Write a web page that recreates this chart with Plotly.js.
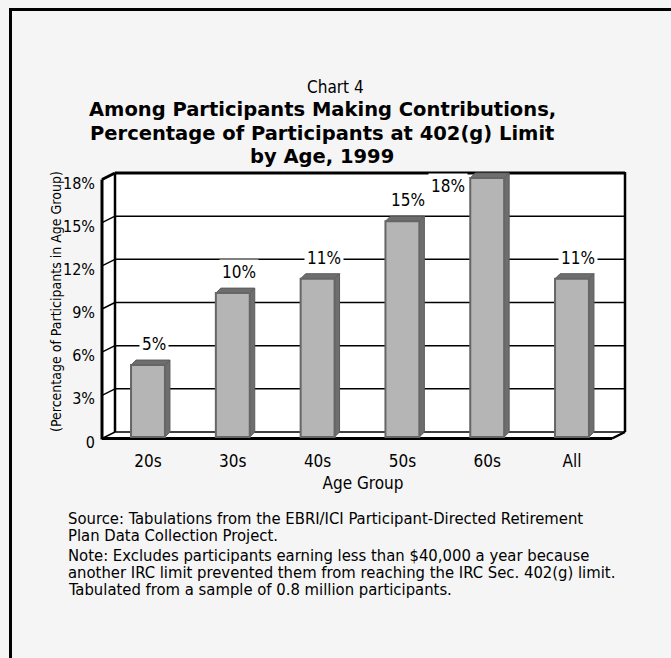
<!DOCTYPE html>
<html><head><meta charset="utf-8">
<script src="https://cdn.plot.ly/plotly-3.0.1.min.js"></script>
<style>html,body{margin:0;padding:0;background:#f5f5f5;}#chart{width:671px;height:658px;}</style>
</head><body><div id="chart"></div>
<script>
// ---- data ----
const categories = ['20s', '30s', '40s', '50s', '60s', 'All'];
const percentages = [5, 10, 11, 15, 18, 11];
const valueLabels = ['5%', '10%', '11%', '15%', '18%', '11%'];
const yTickVals = [0, 3, 6, 9, 12, 15, 18];
const yTickText = ['0', '3%', '6%', '9%', '12%', '15%', '18%'];
const chartLabel = 'Chart 4';
const titleLines = ['Among Participants Making Contributions,', 'Percentage of Participants at 402(g) Limit', 'by Age, 1999'];
const xTitle = 'Age Group';
const yTitle = '(Percentage of Participants in Age Group)';
const footnoteLines = [
  'Source: Tabulations from the EBRI/ICI Participant-Directed Retirement',
  'Plan Data Collection Project.',
  'Note: Excludes participants earning less than $40,000 a year because',
  'another IRC limit prevented them from reaching the IRC Sec. 402(g) limit.',
  'Tabulated from a sample of 0.8 million participants.'
];

// ---- geometry (pixels) ----
const W = 671, H = 658;
const PL = 96, PR = 630, PT = 166, PB = 446;
const BACK_L = 115, BACK_R = 625, BACK_ZERO = 432, BACK_TOP = 173;
const DX = -13, DY = 6.5;          // depth of floor / left wall
const BAR_D = 5;                    // bar depth
const FRONT_ZERO = BACK_ZERO + BAR_D;
const CAT0 = 148, CAT_STEP = 84.8;
const YMAX = 18;
const pxPerY = (BACK_ZERO - BACK_TOP) / YMAX;

const yRange = [(BACK_ZERO - PB) / pxPerY, (BACK_ZERO - PT) / pxPerY];
const y2Range = [(FRONT_ZERO - PB) / pxPerY, (FRONT_ZERO - PT) / pxPerY];
const xRange = [(PL - CAT0) / CAT_STEP, (PR - CAT0) / CAT_STEP];
const px = x => (x - PL) / (PR - PL);
const py = y => (PB - y) / (PB - PT);

const NARROW = '"Liberation Sans Narrow", "DejaVu Sans Condensed", "Arial Narrow", Roboto, sans-serif';
const BOLD = '"DejaVu Sans", Verdana, sans-serif';

const shapes = [];
// outer frame
shapes.push({type: 'path', xref: 'paper', yref: 'paper', layer: 'below',
  path: `M ${px(10.5)},${py(H + 5)} L ${px(10.5)},${py(9.5)} L ${px(W + 5)},${py(9.5)}`,
  line: {color: '#000', width: 3}});
// walls
shapes.push({type: 'path', xref: 'paper', yref: 'paper', layer: 'below', fillcolor: '#fff', line: {width: 0},
  path: `M ${px(BACK_L)},${py(BACK_TOP)} L ${px(BACK_R)},${py(BACK_TOP)} L ${px(BACK_R)},${py(BACK_ZERO)} L ${px(BACK_R + DX)},${py(BACK_ZERO + DY)} L ${px(BACK_L + DX)},${py(BACK_ZERO + DY)} L ${px(BACK_L + DX)},${py(BACK_TOP + DY)} Z`});
// gridlines from tick values
const dyData = DY / pxPerY;
yTickVals.forEach(t => {
  const w = (t === YMAX) ? 3 : 1.5;
  shapes.push({type: 'line', xref: 'paper', yref: 'y', layer: 'below', x0: px(BACK_L), x1: px(BACK_R), y0: t, y1: t, line: {color: '#000', width: w}});
  shapes.push({type: 'line', xref: 'paper', yref: 'y', layer: 'below', x0: px(BACK_L + DX), x1: px(BACK_L), y0: t - dyData, y1: t, line: {color: '#000', width: w}});
});
// wall edges
const edge = (x0, y0, x1, y1, w) => shapes.push({type: 'line', xref: 'paper', yref: 'paper', layer: 'below',
  x0: px(x0), y0: py(y0), x1: px(x1), y1: py(y1), line: {color: '#000', width: w}});
edge(BACK_L, BACK_TOP, BACK_L, BACK_ZERO, 2.5);
edge(BACK_R, BACK_TOP - 1, BACK_R, BACK_ZERO, 2.5);
edge(BACK_L + DX, BACK_TOP + DY, BACK_L + DX, BACK_ZERO + DY + 1, 3);
edge(BACK_L + DX, BACK_ZERO + DY, BACK_R + DX, BACK_ZERO + DY, 3);
edge(BACK_R + DX, BACK_ZERO + DY, BACK_R, BACK_ZERO, 2.5);

// bar top and side faces (through x / y2 scales)
const halfW = 0.2;
const bdx = BAR_D / CAT_STEP, bdy = BAR_D / pxPerY;
percentages.forEach((v, i) => {
  shapes.push({type: 'path', xref: 'x', yref: 'y2', layer: 'below', fillcolor: '#6e6e6e', line: {color: '#5c5c5c', width: 1},
    path: `M ${i - halfW},${v} L ${i - halfW + bdx},${v + bdy} L ${i + halfW + bdx},${v + bdy} L ${i + halfW},${v} Z`});
  shapes.push({type: 'path', xref: 'x', yref: 'y2', layer: 'below', fillcolor: '#6e6e6e', line: {color: '#5c5c5c', width: 1},
    path: `M ${i + halfW},${v} L ${i + halfW + bdx},${v + bdy} L ${i + halfW + bdx},${bdy} L ${i + halfW},0 Z`});
});

const annotations = [];
percentages.forEach((v, i) => {
  const atTop = v >= YMAX;
  annotations.push({x: categories[i], y: v, xref: 'x', yref: 'y2', text: valueLabels[i], showarrow: false,
    xanchor: 'center', yanchor: 'middle', xshift: atTop ? -39 : 6, yshift: atTop ? -8 : 21,
    bgcolor: '#fff', borderpad: 2, font: {family: NARROW, size: 17, color: '#000'}});
});
annotations.push({xref: 'paper', yref: 'paper', x: px(335), y: py(87), text: chartLabel, showarrow: false,
  xanchor: 'center', yanchor: 'middle', font: {family: NARROW, size: 17, color: '#000'}});
const titleY = [109, 133, 157];
titleLines.forEach((t, k) => annotations.push({xref: 'paper', yref: 'paper', x: px(322), y: py(titleY[k]), text: '<b>' + t + '</b>',
  showarrow: false, xanchor: 'center', yanchor: 'middle', font: {family: BOLD, size: 19.5, color: '#000'}}));
annotations.push({xref: 'paper', yref: 'paper', x: px(56), y: py(302), text: yTitle, textangle: -90, showarrow: false,
  xanchor: 'center', yanchor: 'middle', font: {family: NARROW, size: 14, color: '#000'}});
const footY = [518, 535, 555, 572, 589];
footnoteLines.forEach((t, k) => annotations.push({xref: 'paper', yref: 'paper', x: px(66), y: py(footY[k]), text: t,
  showarrow: false, xanchor: 'left', yanchor: 'middle', font: {family: NARROW, size: 16.5, color: '#000'}}));

const data = [{
  type: 'bar', x: categories, y: percentages, yaxis: 'y2', width: 0.4,
  marker: {color: '#b5b5b5', line: {color: '#666', width: 2}}, hoverinfo: 'skip'
}];

const layout = {
  width: W, height: H,
  margin: {l: PL, r: W - PR, t: PT, b: H - PB, pad: 0},
  paper_bgcolor: '#f5f5f5', plot_bgcolor: '#f5f5f5',
  showlegend: false,
  font: {family: NARROW, color: '#000'},
  xaxis: {type: 'category', range: xRange, showgrid: false, zeroline: false, showline: false, ticks: '',
    tickfont: {family: NARROW, size: 17, color: '#000'}, ticklabelstandoff: 3,
    title: {text: xTitle, font: {family: NARROW, size: 17, color: '#000'}, standoff: 7}},
  yaxis: {range: yRange, tickvals: yTickVals, ticktext: yTickText, showgrid: false, zeroline: false, showline: false,
    ticks: '', ticklabelshift: 10, ticklabelstandoff: 0, tickfont: {family: NARROW, size: 16, color: '#000'}},
  yaxis2: {range: y2Range, overlaying: 'y', showgrid: false, zeroline: false, showline: false, showticklabels: false, ticks: ''},
  shapes: shapes, annotations: annotations
};

Plotly.newPlot('chart', data, layout, {staticPlot: true, displayModeBar: false});
</script></body></html>
